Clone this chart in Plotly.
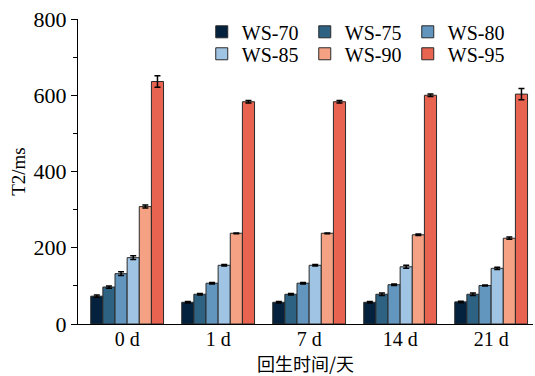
import plotly.graph_objects as go

# Storage time groups and T2 relaxation values (ms) for each sample
days = ["0 d", "1 d", "7 d", "14 d", "21 d"]
series_names = ["WS-70", "WS-75", "WS-80", "WS-85", "WS-90", "WS-95"]

ws70 = [73, 57, 57, 57, 58]
ws75 = [97, 78, 78, 78, 78]
ws80 = [132, 107, 107, 103, 101]
ws85 = [174, 154, 154, 150, 146]
ws90 = [308, 238, 238, 234, 225]
ws95 = [636, 583, 583, 600, 603]

err70 = [3, 2, 2, 2, 2]
err75 = [3, 2, 2, 3, 3]
err80 = [5, 2, 2, 2, 1]
err85 = [5, 2, 2, 4, 3]
err90 = [4, 1, 1, 2, 3]
err95 = [15, 3, 3, 3, 15]

values = [ws70, ws75, ws80, ws85, ws90, ws95]
errors = [err70, err75, err80, err85, err90, err95]
colors = ["#04223d", "#2e6283", "#6396bf", "#a0c4e4", "#f4a283", "#e86350"]

serif = "Liberation Serif"

fig = go.Figure()
for i, (name, vals, errs, col) in enumerate(zip(series_names, values, errors, colors)):
    fig.add_trace(go.Bar(
        x=days, y=vals, name=name,
        marker=dict(color=col, line=dict(color="#2a2a2a", width=1)),
        error_y=dict(type="data", array=errs, visible=True,
                     color="black", thickness=1.5, width=3),
        legend="legend" if i < 3 else "legend2",
    ))

legend_common = dict(
    orientation="h", xanchor="left", yanchor="middle",
    font=dict(family=serif, size=20, color="black"),
    bgcolor="rgba(0,0,0,0)", entrywidth=58, itemwidth=30,
    tracegroupgap=0,
)

fig.update_layout(
    width=535, height=376,
    margin=dict(l=78, r=2, t=19, b=52),
    paper_bgcolor="white", plot_bgcolor="white",
    barmode="group", bargap=0.2, bargroupgap=0,
    showlegend=True,
    legend=dict(x=0.272, y=0.958, **legend_common),
    legend2=dict(x=0.272, y=0.886, **legend_common),
    xaxis=dict(
        type="category", range=[-0.54, 4.46],
        showline=True, linecolor="black", linewidth=1,
        ticks="", showgrid=False, ticklabelstandoff=-3,
        tickfont=dict(family=serif, size=20, color="black"),
        title=dict(text="回生时间/天", standoff=5,
                   font=dict(family="Noto Sans CJK SC", size=18, color="black")),
    ),
    yaxis=dict(
        range=[0, 800], tickvals=[0, 200, 400, 600, 800],
        showline=True, linecolor="black", linewidth=1,
        ticks="outside", ticklen=6, tickcolor="black",
        minor=dict(tickvals=[100, 300, 500, 700], ticks="outside",
                   ticklen=4, tickcolor="black"),
        showgrid=False, zeroline=False,
        tickfont=dict(family=serif, size=22, color="black"),
        title=dict(text="T2/ms", standoff=2,
                   font=dict(family=serif, size=19, color="black")),
    ),
)

fig.write_html("out.html")
